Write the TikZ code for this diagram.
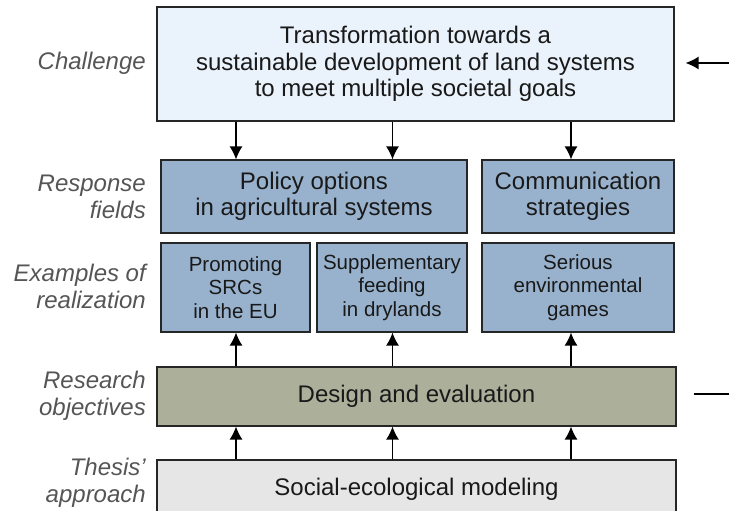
\documentclass[tikz,border=0pt]{standalone}
\usepackage{fontspec}
\setmainfont{Liberation Sans}
\usetikzlibrary{arrows.meta}
\definecolor{chalfill}{RGB}{234,242,251}
\definecolor{bluefill}{RGB}{152,178,205}
\definecolor{olivefill}{RGB}{172,176,154}
\definecolor{greyfill}{RGB}{230,230,230}
\definecolor{lblgrey}{RGB}{85,85,85}
\tikzset{
  box/.style = {draw=black!85, line width=1.2pt, inner sep=0pt,
                align=center, text=black!90,
                font=\fontsize{24}{26.5}\selectfont},
  smallbox/.style = {box, font=\fontsize{20.5}{23.3}\selectfont},
  lbl/.style = {anchor=east, align=right, inner sep=0pt, text=lblgrey,
                font=\fontsize{24}{27}\selectfont\itshape},
  arr/.style = {line width=1.3pt, -{Latex[length=13pt,width=13pt]}}
}
\begin{document}
\begin{tikzpicture}[x=1pt, y=-1pt]
	\useasboundingbox (0,0) rectangle (729,511);

	% Boxes
	\node[box, fill=chalfill, minimum width=517, minimum height=114] (chal) at (415.5,64)
		{Transformation towards a\\sustainable development of land systems\\to meet multiple societal goals};
	\node[box, fill=bluefill, minimum width=306, minimum height=73] (policy) at (314,196.5)
		{Policy options\\in agricultural systems};
	\node[box, fill=bluefill, minimum width=192, minimum height=73] (comm) at (578,196.5)
		{Communication\\strategies};
	\node[smallbox, fill=bluefill, minimum width=149, minimum height=89] (srcs) at (235.5,287.5)
		{Promoting\\SRCs\\in the EU};
	\node[smallbox, fill=bluefill, minimum width=150, minimum height=89] (feed) at (392,287.5)
		{Supplementary\\feeding\\in drylands};
	\node[smallbox, fill=bluefill, minimum width=192, minimum height=89] (games) at (578,287.5)
		{Serious\\environmental\\games};
	\node[box, fill=olivefill, minimum width=519, minimum height=59] (design) at (416.5,396.5)
		{Design and evaluation};
	\node[box, fill=greyfill, minimum width=519, minimum height=58] (model) at (416.5,489)
		{Social-ecological modeling};

	% Row labels
	\node[lbl] (lchal) at (146,63) {Challenge};
	\node[lbl] (lresp) at (146,197) {Response\\fields};
	\node[lbl] (lexam) at (146,286) {Examples of\\realization};
	\node[lbl] (lres) at (146,396) {Research\\objectives};
	\node[lbl] (lthes) at (146,483) {Thesis'\\approach};

	% Arrow columns
	\coordinate (c1) at (236,0);
	\coordinate (c2) at (392.5,0);
	\coordinate (c3) at (571,0);

	\draw[arr] (chal.south -| c1) -- (policy.north -| c1);
	\draw[arr] (chal.south -| c2) -- (policy.north -| c2);
	\draw[arr] (chal.south -| c3) -- (comm.north -| c3);

	\draw[arr] (design.north -| c1) -- (srcs.south -| c1);
	\draw[arr] (design.north -| c2) -- (feed.south -| c2);
	\draw[arr] (design.north -| c3) -- (games.south -| c3);

	\draw[arr] (model.north -| c1) -- (design.south -| c1);
	\draw[arr] (model.north -| c2) -- (design.south -| c2);
	\draw[arr] (model.north -| c3) -- (design.south -| c3);

	% Feedback loop ends
	\coordinate (fin) at (731,63);
	\coordinate (fout) at (731,394);
	\draw[arr] (fin) -- ([xshift=11pt]chal.east |- fin);
	\draw[line width=1.3pt] ([xshift=17pt]design.east |- fout) -- (fout);
\end{tikzpicture}
\end{document}
